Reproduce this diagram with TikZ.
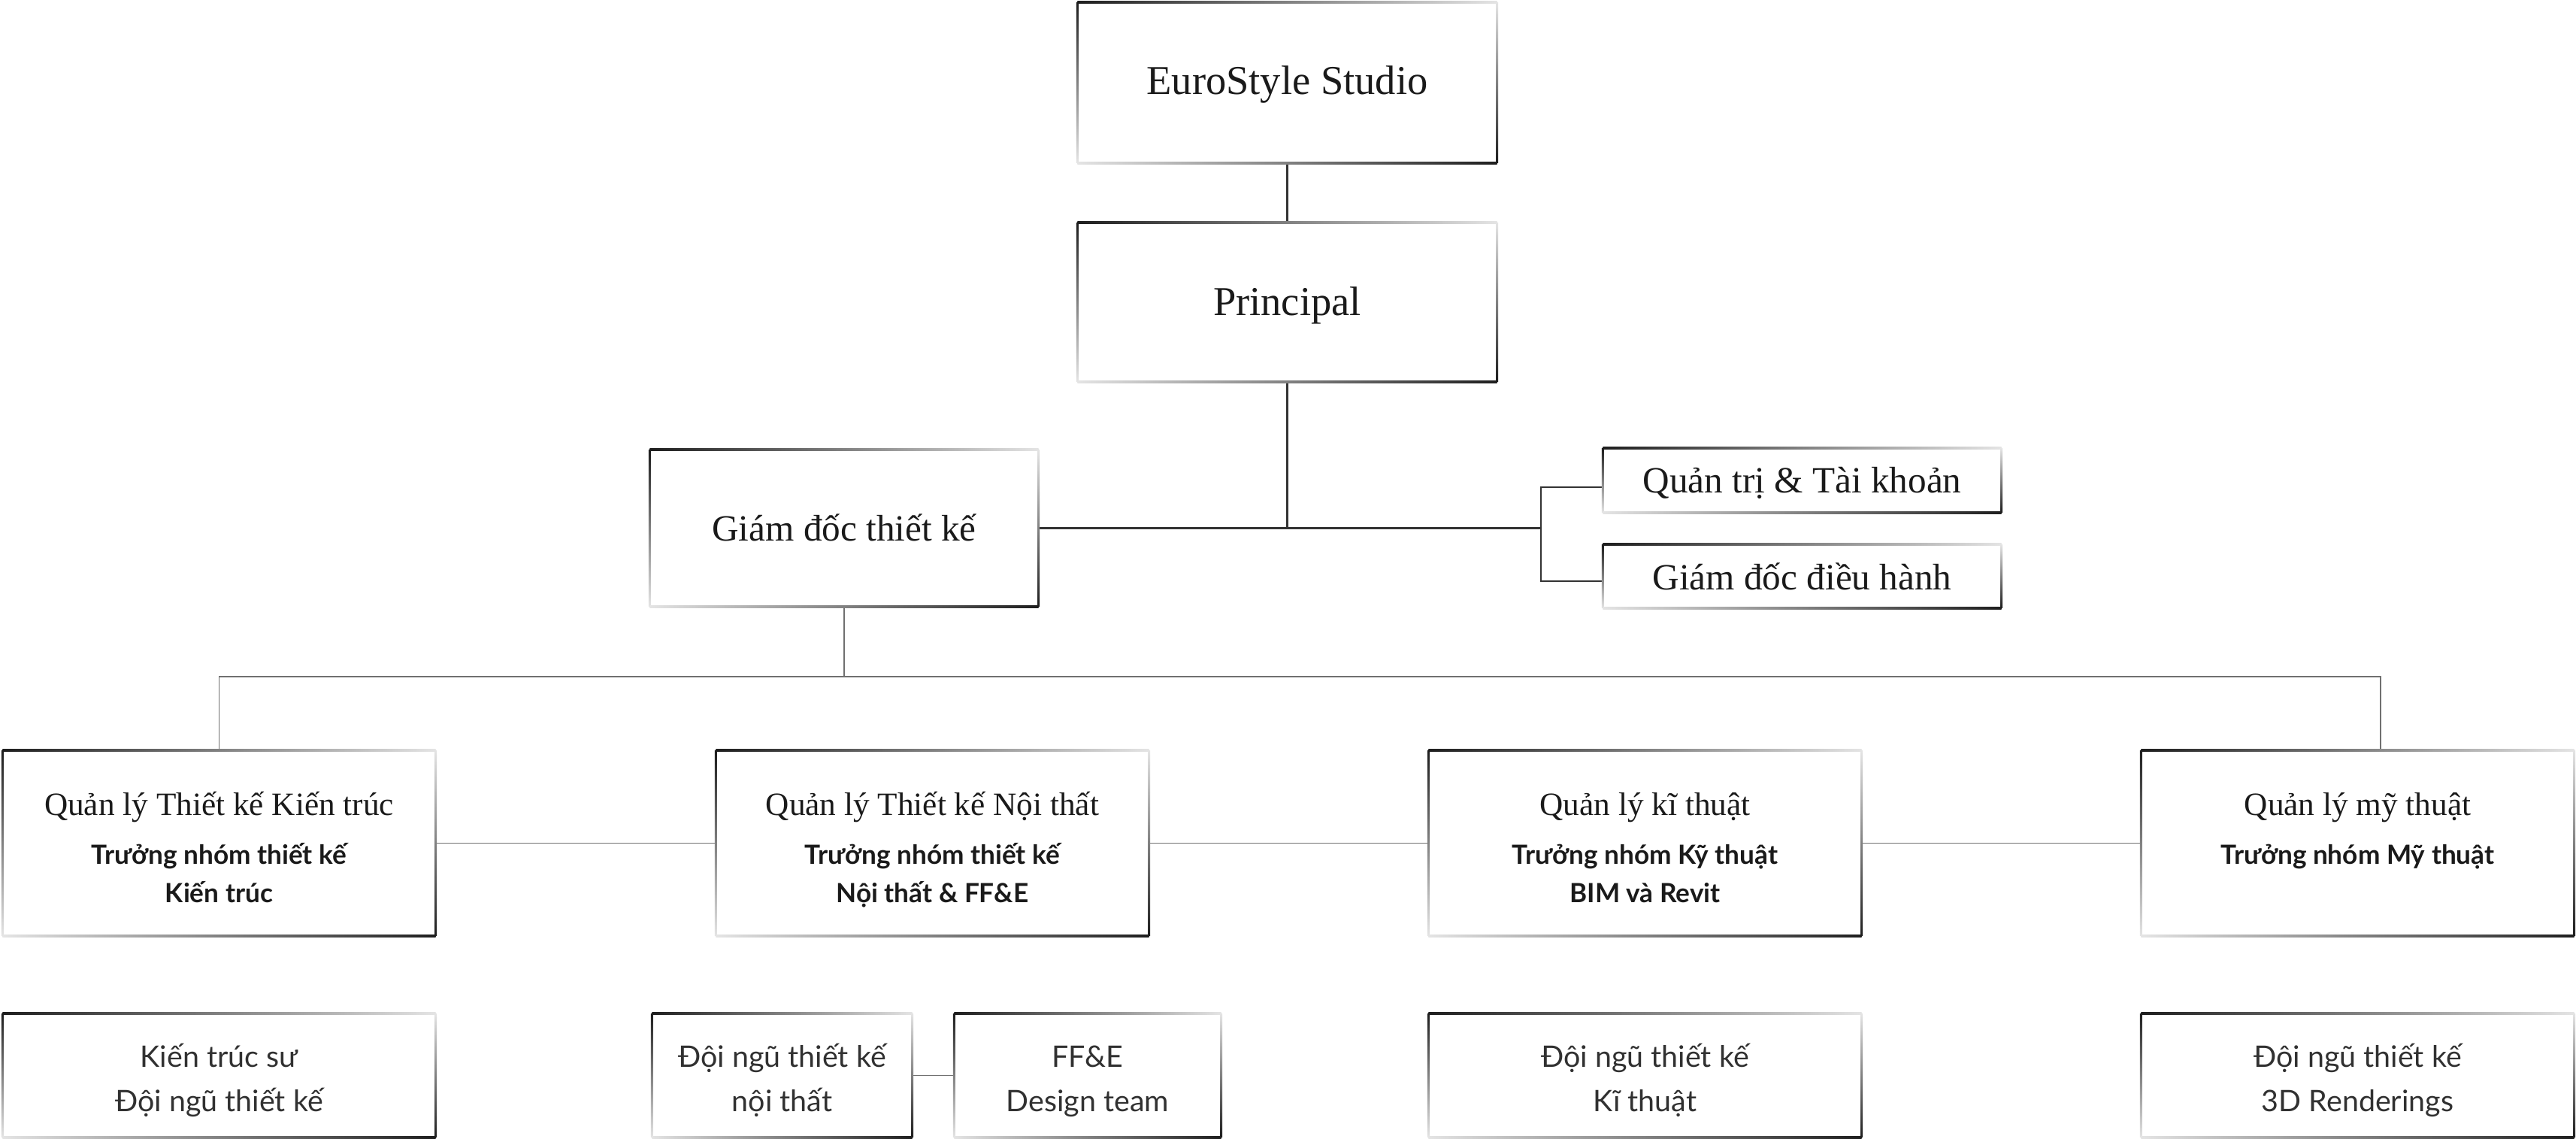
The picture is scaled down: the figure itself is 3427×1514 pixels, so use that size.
\documentclass[tikz,border=0pt]{standalone}
\usepackage{fontspec}
\setmainfont{Liberation Serif}
\newfontfamily\sansf{Lato}
\usetikzlibrary{calc}
\definecolor{gdark}{HTML}{1E1E1E}
\definecolor{glight}{HTML}{E4E4E4}
\definecolor{txt}{HTML}{1A1A1A}
\definecolor{conn}{HTML}{333333}
\definecolor{connl}{HTML}{707070}
\newcommand\gradframe[1]{%
  \shade[left color=gdark,right color=glight] ([yshift=-0.4pt]#1.north west) rectangle ([yshift=0.4pt]#1.north east);
  \shade[top color=gdark,bottom color=glight] ([xshift=-0.4pt]#1.north west) rectangle ([xshift=0.4pt]#1.south west);
  \shade[left color=glight,right color=gdark] ([yshift=-0.4pt]#1.south west) rectangle ([yshift=0.4pt]#1.south east);
  \shade[top color=glight,bottom color=gdark] ([xshift=-0.4pt]#1.north east) rectangle ([xshift=0.4pt]#1.south east);
}
\tikzset{
  bx/.style 2 args={rectangle,draw=none,inner sep=0pt,minimum width=#1*0.01cm,minimum height=#2*0.01cm},
  hd/.style={font=\fontsize{15.5}{18}\selectfont,text=txt,anchor=mid,inner sep=0pt},
  hm/.style={font=\fontsize{14}{17}\selectfont,text=txt,anchor=mid,inner sep=0pt},
  tt/.style={font=\fontsize{12.3}{15}\selectfont,text=txt,anchor=mid,inner sep=0pt},
  sb/.style={font=\sansf\bfseries\fontsize{10}{12}\selectfont,text=txt,anchor=mid,inner sep=0pt},
  lo/.style={font=\sansf\fontsize{11.2}{13}\selectfont,text=txt!90,anchor=mid,inner sep=0pt},
  cn/.style={draw=conn,line width=0.6pt},
  cl/.style={draw=connl,line width=0.5pt},
}
\begin{document}
\begin{tikzpicture}[x=0.01cm,y=-0.01cm]
\useasboundingbox[fill=white] (0,0) rectangle (3427,1514);
% boxes
\node[bx={557}{212}] (euro) at (1712.5,110) {};
\node[bx={557}{210}] (princ) at (1712.5,402) {};
\node[bx={516}{207}] (gdtk) at (1123,702.5) {};
\node[bx={529}{84}] (qt) at (2397.5,639) {};
\node[bx={529}{83}] (gddh) at (2397.5,766.5) {};
\node[bx={575}{245}] (qa) at (291.5,1121.5) {};
\node[bx={575}{245}] (qb) at (1240.5,1121.5) {};
\node[bx={575}{245}] (qc) at (2188.5,1121.5) {};
\node[bx={575}{245}] (qd) at (3136.5,1121.5) {};
\node[bx={575}{163}] (ba) at (291.5,1430.5) {};
\node[bx={345}{163}] (bnt) at (1040.5,1430.5) {};
\node[bx={354}{163}] (bff) at (1447,1430.5) {};
\node[bx={575}{163}] (bc) at (2188.5,1430.5) {};
\node[bx={575}{163}] (bd) at (3136.5,1430.5) {};
% connectors
\draw[cn] (euro.south) -- (princ.north);
\coordinate (junc) at (1712.5,702.5);
\draw[cn] (princ.south) -- (junc);
\coordinate (brk) at (2050,702.5);
\draw[cn,line width=0.8pt] (gdtk.east) -- (brk);
\coordinate (bq) at (2050,648);
\coordinate (bg) at (2050,773);
\draw[cn] (bq -| qt.west) -- (bq) -- (bg) -- (bg -| gddh.west);
\coordinate (bus) at (1123,900);
\coordinate (busl) at (291.5,900);
\coordinate (busr) at (3167,900);
\draw[cl] (gdtk.south) -- (bus);
\draw[cl] (qa.north) -- (busl) -- (busr) -- (busr |- qd.north);
\draw[cl] (qa.east) -- (qb.west);
\draw[cl] (qb.east) -- (qc.west);
\draw[cl] (qc.east) -- (qd.west);
\draw[cl] (bnt.east) -- (bff.west);
% frames
\foreach \n in {euro,princ,gdtk,qt,gddh,qa,qb,qc,qd,ba,bnt,bff,bc,bd}{\gradframe{\n}}
% texts
\node[hd] (teuro) at (1712.5,117) {EuroStyle Studio};
\node[hd] (tprinc) at (1712.5,411) {Principal};
\node[hm] (tgdtk) at (1123,711) {Giám đốc thiết kế};
\node[hm] (tqt) at (2397.5,647) {Quản trị \& Tài khoản};
\node[hm] (tgddh) at (2397.5,776) {Giám đốc điều hành};
\node[tt] (tqa) at (291.5,1076) {Quản lý Thiết kế Kiến trúc};
\node[sb] (sqa1) at (291.5,1141) {Trưởng nhóm thiết kế};
\node[sb] (sqa2) at (291.5,1192) {Kiến trúc};
\node[tt] (tqb) at (1240.5,1076) {Quản lý Thiết kế Nội thất};
\node[sb] (sqb1) at (1240.5,1141) {Trưởng nhóm thiết kế};
\node[sb] (sqb2) at (1240.5,1192) {Nội thất \& FF\&E};
\node[tt] (tqc) at (2188.5,1076) {Quản lý kĩ thuật};
\node[sb] (sqc1) at (2188.5,1141) {Trưởng nhóm Kỹ thuật};
\node[sb] (sqc2) at (2188.5,1192) {BIM và Revit};
\node[tt] (tqd) at (3136.5,1076) {Quản lý mỹ thuật};
\node[sb] (sqd1) at (3136.5,1141) {Trưởng nhóm Mỹ thuật};
\node[lo] (tba1) at (291.5,1411) {Kiến trúc sư};
\node[lo] (tba2) at (291.5,1470) {Đội ngũ thiết kế};
\node[lo] (tbn1) at (1040.5,1411) {Đội ngũ thiết kế};
\node[lo] (tbn2) at (1040.5,1470) {nội thất};
\node[lo] (tbf1) at (1447,1411) {FF\&E};
\node[lo] (tbf2) at (1447,1470) {Design team};
\node[lo] (tbc1) at (2188.5,1411) {Đội ngũ thiết kế};
\node[lo] (tbc2) at (2188.5,1470) {Kĩ thuật};
\node[lo] (tbd1) at (3136.5,1411) {Đội ngũ thiết kế};
\node[lo] (tbd2) at (3136.5,1470) {3D Renderings};
\end{tikzpicture}
\end{document}
